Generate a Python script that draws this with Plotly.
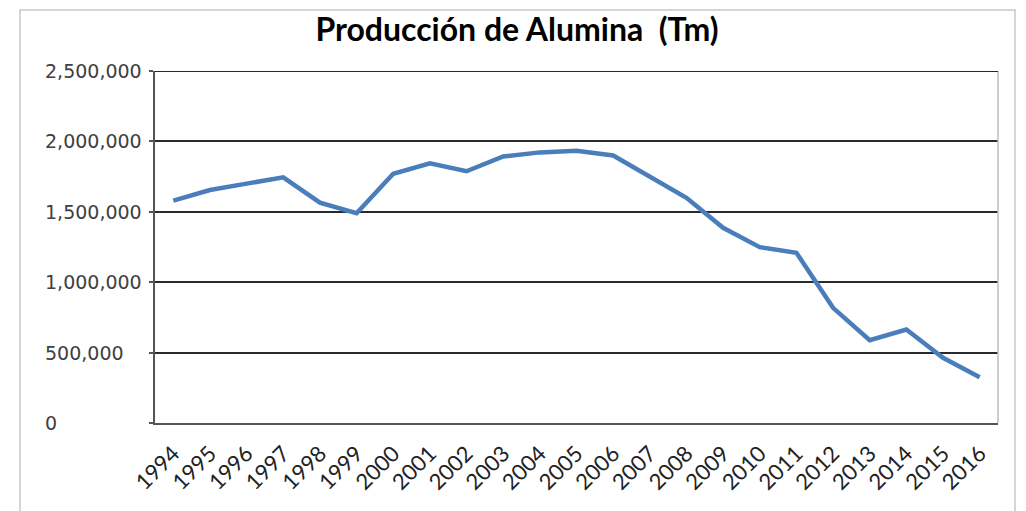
import plotly.graph_objects as go

years = [str(y) for y in range(1994, 2017)]
produccion = [1580000, 1655000, 1700000, 1745000, 1565000, 1490000, 1770000,
              1845000, 1788000, 1893000, 1922000, 1933000, 1900000, 1753000,
              1599000, 1386000, 1249000, 1209000, 818000, 588000, 664000,
              463000, 325000]
y_ticks = [0, 500000, 1000000, 1500000, 2000000, 2500000]
y_tick_labels = [f"{v:,}" for v in y_ticks]

OFF = 8  # page body margin
W, H = 1026 - OFF, 511 - OFF
L, R, T, B = 155 - OFF, 28, 71 - OFF, 88
pw, ph = W - L - R, H - T - B

fig = go.Figure()
fig.add_trace(go.Scatter(
    x=years, y=produccion, mode="lines",
    line=dict(color="#4A7EBB", width=4.5),
    showlegend=False, hoverinfo="x+y",
))

def px_x(p):
    return (p - OFF - L) / pw

def px_y(p):
    return (H - B - (p - OFF)) / ph

annotations = []
for v, t in zip(y_ticks, y_tick_labels):
    annotations.append(dict(
        x=px_x(43), xref="paper", y=v, yref="y",
        text=t, showarrow=False, xanchor="left", yanchor="middle",
        font=dict(family="DejaVu Sans", size=19, color="#404040"),
    ))

shapes = [
    dict(type="rect", xref="paper", yref="paper",
         x0=px_x(20), x1=px_x(1015), y0=px_y(10), y1=px_y(540),
         line=dict(color="#C8C8C8", width=1.5), layer="below"),
    dict(type="line", xref="paper", yref="paper",
         x0=1, x1=1, y0=0, y1=1,
         line=dict(color="#BDBDBD", width=1.5), layer="above"),
    dict(type="line", xref="paper", yref="y",
         x0=0, x1=1, y0=y_ticks[-1], y1=y_ticks[-1],
         line=dict(color="#2A2A2A", width=2), layer="above"),
]

fig.update_layout(
    width=W, height=H,
    margin=dict(l=L, r=R, t=T, b=B),
    paper_bgcolor="white", plot_bgcolor="white",
    title=dict(
        text="<b>Producción de Alumina\u00a0\u00a0(Tm)</b>",
        x=px_x(517) * pw / W + L / W, xanchor="center",
        y=1 - (30 - OFF) / H, yanchor="middle",
        font=dict(family="Lato", size=32, color="#000000"),
    ),
    xaxis=dict(
        type="category", categoryorder="array", categoryarray=years,
        range=[-0.5, len(years) - 0.5],
        showgrid=False, showline=True, linecolor="#555555", linewidth=2,
        ticks="", tickangle=-45, ticklabelstandoff=7,
        tickfont=dict(family="Lato", size=22, color="#222222"),
        zeroline=False,
    ),
    yaxis=dict(
        range=[0, 2500000], tickvals=y_ticks, showticklabels=False,
        showgrid=True, gridcolor="#2A2A2A", gridwidth=1.5,
        showline=True, linecolor="#555555", linewidth=2,
        ticks="outside", ticklen=4, tickcolor="#555555", tickwidth=1.5,
        zeroline=False,
    ),
    annotations=annotations,
    shapes=shapes,
)

fig.write_html("out.html")
